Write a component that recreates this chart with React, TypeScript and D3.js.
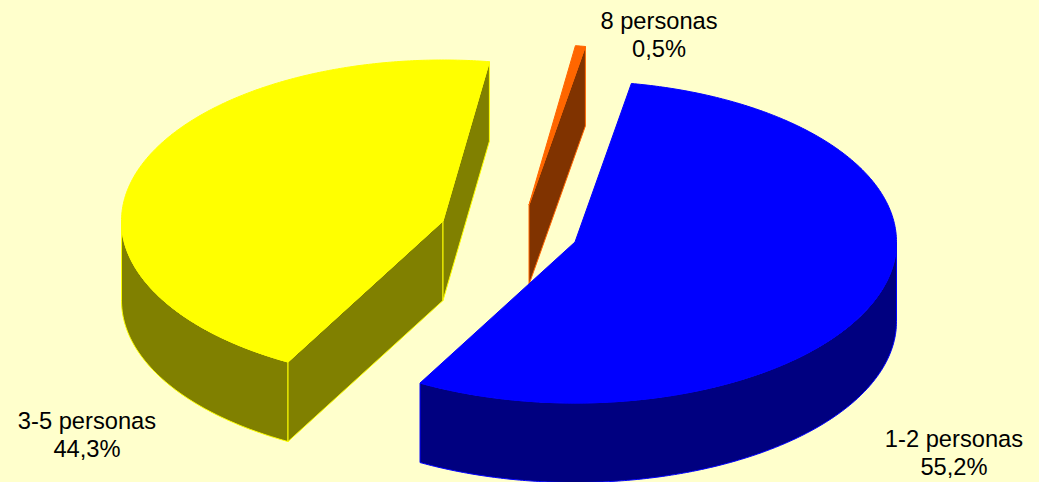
import * as d3 from "d3";

// Household size shares, clockwise from the first slice
const categories = ["1-2 personas", "3-5 personas", "8 personas"];
const shares = [55.2, 44.3, 0.5];
const shareLabels = ["55,2%", "44,3%", "0,5%"];

const topColors = ["#0000FF", "#FFFF00", "#FF6600"];
const wallColors = ["#000080", "#808000", "#803300"];

const WIDTH = 1039;
const HEIGHT = 482;
const RX = 321.5;
const RY = 161;
const DEPTH = 79.5;
const FIRST_ANGLE = (10.1 * Math.PI) / 180;

// Exploded centre of each slice and the anchor of its two-line label
const centers: [number, number][] = [[575, 242], [443, 221], [529, 205]];
const labelAnchors: [number, number][] = [[954, 447], [87, 429], [659, 29]];
const LINE_GAP = 28;

const slices = d3
  .pie<number>()
  .sort(null)
  .startAngle(FIRST_ANGLE)
  .endAngle(FIRST_ANGLE + 2 * Math.PI)(shares);

// Projects a pie angle (clockwise from 12 o'clock) onto the tilted ellipse
const rim = (c: [number, number], t: number, drop = 0): [number, number] => [
  c[0] + RX * Math.sin(t),
  c[1] - RY * Math.cos(t) + drop,
];

const arcPoints = (c: [number, number], a0: number, a1: number, drop = 0) => {
  const n = Math.max(2, Math.ceil(Math.abs(a1 - a0) / 0.01));
  return d3.range(n + 1).map((i) => rim(c, a0 + ((a1 - a0) * i) / n, drop));
};

const poly = d3.line();

const closed = (pts: [number, number][]) => `${poly(pts)}Z`;

// Wall segments that face the viewer: the front of the rim plus visible cut faces
function wallPaths(i: number): string[] {
  const c = centers[i];
  const { startAngle: a0, endAngle: a1 } = slices[i];
  const out: string[] = [];
  const from = Math.max(a0, Math.PI / 2);
  const to = Math.min(a1, (3 * Math.PI) / 2);
  if (to > from) {
    out.push(
      closed([...arcPoints(c, from, to), ...arcPoints(c, to, from, DEPTH)])
    );
  }
  const apexBottom: [number, number] = [c[0], c[1] + DEPTH];
  const startVisible = Math.sin(a0) < 0;
  const endVisible = Math.sin(a1) > 0;
  if (startVisible) {
    out.push(closed([c, rim(c, a0), rim(c, a0, DEPTH), apexBottom]));
  }
  if (endVisible) {
    out.push(closed([c, rim(c, a1), rim(c, a1, DEPTH), apexBottom]));
  }
  return out;
}

const topPath = (i: number) =>
  closed([centers[i], ...arcPoints(centers[i], slices[i].startAngle, slices[i].endAngle)]);

// Back-to-front painting order
const paintOrder = [1, 2, 0];

export default function App() {
  return (
    <svg
      width={WIDTH}
      height={HEIGHT}
      viewBox={`0 0 ${WIDTH} ${HEIGHT}`}
      style={{ position: "absolute", left: 0, top: 0, display: "block" }}
    >
      <rect width={WIDTH} height={HEIGHT} fill="#FFFFCC" />
      {paintOrder.map((i) => (
        <g key={categories[i]}>
          {wallPaths(i).map((d, k) => (
            <path key={k} d={d} fill={wallColors[i]} stroke={topColors[i]} strokeWidth={1} strokeLinejoin="round" />
          ))}
          <path d={topPath(i)} fill={topColors[i]} stroke={topColors[i]} strokeWidth={1} strokeLinejoin="round" />
        </g>
      ))}
      {categories.map((name, i) => (
        <text
          key={name}
          textAnchor="middle"
          fontFamily="'Liberation Sans', Arial, sans-serif"
          fontSize={23.7}
          fill="#000"
        >
          <tspan x={labelAnchors[i][0]} y={labelAnchors[i][1]}>{name}</tspan>
          <tspan x={labelAnchors[i][0]} y={labelAnchors[i][1] + LINE_GAP}>{shareLabels[i]}</tspan>
        </text>
      ))}
    </svg>
  );
}
